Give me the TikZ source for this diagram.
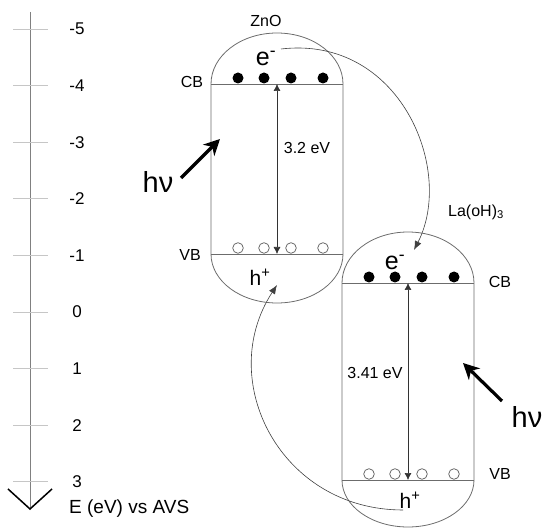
\documentclass[tikz,border=0pt]{standalone}
\usepackage{fontspec}
\setmainfont{Liberation Sans}
\usetikzlibrary{arrows.meta}
\tikzset{
	lbl/.style={font=\fontsize{16}{19}\selectfont, inner sep=0pt},
	carrier/.style={font=\fontsize{25}{28}\selectfont, inner sep=0pt},
	holelbl/.style={font=\fontsize{21}{24}\selectfont, inner sep=0pt},
	photon/.style={font=\fontsize{29}{32}\selectfont, inner sep=0pt},
	band/.style={draw=gray!85!black, line width=0.8pt},
	hole/.style={draw=gray!70!black, fill=white, line width=0.7pt},
	gap/.style={draw=black!80, line width=0.6pt, {Latex[length=7pt,width=7pt]}-{Latex[length=7pt,width=7pt]}},
	hvarrow/.style={line width=3.2pt, -{Stealth[length=16pt,width=16pt,inset=5pt]}},
	flow/.style={draw=black!75, line width=0.6pt, -{Latex[length=9pt,width=7pt]}}
}
\begin{document}
\begin{tikzpicture}[x=1pt,y=-1pt]
	\useasboundingbox (0,0) rectangle (549,529);
	% energy axis
	\coordinate (axtop) at (30,12);
	\coordinate (axtip) at (30,510);
	\draw[gray, line width=0.8pt, -{Straight Barb[length=20pt,width=44pt,line width=1.5pt,color=black]}] (axtop) -- (axtip);
	\foreach \v [count=\i] in {-5,...,3} {
		\draw[gray!45, line width=0.8pt] (13,{312+56.6*\v}) -- (48,{312+56.6*\v});
		\node[lbl, font=\fontsize{17}{20}\selectfont] (tick\i) at (77,{312+56.6*\v}) {\v};
	}
	\node[lbl, font=\fontsize{19}{22}\selectfont, anchor=west] (axname) at (69,509) {E (eV) vs AVS};

	% ZnO
	\draw[band] (211,84) arc(180:360:66 and 51) -- (343,254) arc(0:180:66 and 49) -- cycle;
	\coordinate (zcbL) at (211,84); \coordinate (zcbR) at (343,84);
	\coordinate (zvbL) at (211,254); \coordinate (zvbR) at (343,254);
	\draw[band] (zcbL) -- (zcbR);
	\draw[band] (zvbL) -- (zvbR);
	\foreach \x in {238,264,291,323} {
		\fill (\x,78) circle (5.5pt);
		\draw[hole] (\x,248) circle (5.3pt);
	}
	\coordinate (zgapT) at (277,84); \coordinate (zgapB) at (277,254);
	\draw[gap] (zgapB) -- (zgapT);
	\node[lbl] (zno) at (266,21) {ZnO};
	\node[lbl] (zcb) at (192,82) {CB};
	\node[lbl] (zvb) at (190,255) {VB};
	\node[lbl] (zgap) at (307,148) {3.2 eV};
	\node[carrier] (eZ) at (266,58) {e\textsuperscript{-}};
	\node[holelbl] (hZ) at (260,277) {h\textsuperscript{+}};

	% La(OH)3
	\draw[band] (342,283) arc(180:360:66 and 51) -- (474,480) arc(0:180:66 and 47) -- cycle;
	\coordinate (lcbL) at (342,283); \coordinate (lcbR) at (474,283);
	\coordinate (lvbL) at (342,480); \coordinate (lvbR) at (474,480);
	\draw[band] (lcbL) -- (lcbR);
	\draw[band] (lvbL) -- (lvbR);
	\foreach \x in {369,395,422,454} {
		\fill (\x,277) circle (5.5pt);
		\draw[hole] (\x,474) circle (5.3pt);
	}
	\coordinate (lgapT) at (408,283); \coordinate (lgapB) at (408,480);
	\draw[gap] (lgapB) -- (lgapT);
	\node[lbl] (lao) at (476,212) {La(oH)\textsubscript{3}};
	\node[lbl] (lcb) at (500,282) {CB};
	\node[lbl] (lvb) at (500,474) {VB};
	\node[lbl] (lgap) at (375,373) {3.41 eV};
	\node[carrier] (eL) at (395,262) {e\textsuperscript{-}};
	\node[holelbl] (hL) at (410,500) {h\textsuperscript{+}};

	% light
	\node[photon] (hvZ) at (158,182) {hν};
	\coordinate (hvZs) at (181,178); \coordinate (hvZe) at (220,139);
	\draw[hvarrow] (hvZs) -- (hvZe);
	\node[photon] (hvL) at (527,417) {hν};
	\coordinate (hvLs) at (502,401); \coordinate (hvLe) at (463,363);
	\draw[hvarrow] (hvLs) -- (hvLe);

	% charge transfer
	\coordinate (eout) at (281,49); \coordinate (ein) at (414,250);
	\draw[flow] (eout) .. controls (400,35) and (455,170) .. (ein);
	\coordinate (hout) at (403,510); \coordinate (hin) at (277,285);
	\draw[flow] (hout) .. controls (280,510) and (215,380) .. (hin);
\end{tikzpicture}
\end{document}
